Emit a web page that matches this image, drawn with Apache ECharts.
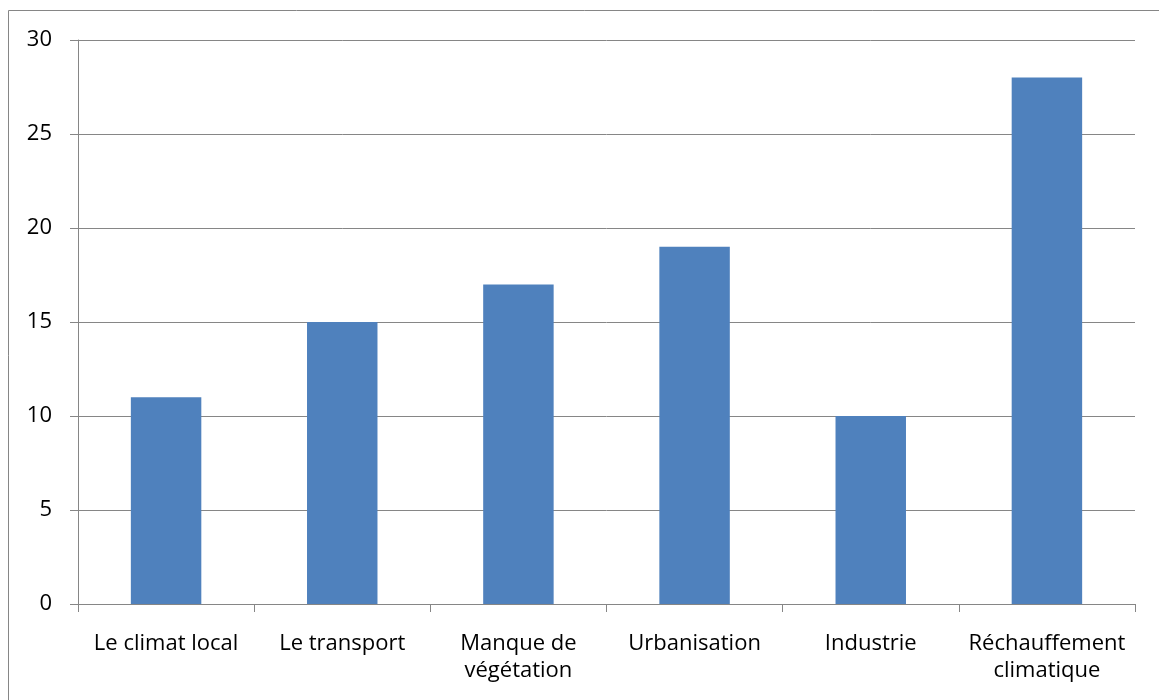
<!DOCTYPE html>
<html>
<head>
<meta charset="utf-8">
<script src="https://cdn.jsdelivr.net/npm/echarts@6/dist/echarts.min.js"></script>
<style>
  html, body { margin: 0; padding: 0; background: #fff; }
  #main { width: 1159px; height: 700px; }
</style>
</head>
<body>
<div id="main"></div>
<script>
// catégories et valeurs
var categories = ['Le climat local', 'Le transport', 'Manque de\nvégétation', 'Urbanisation', 'Industrie', 'Réchauffement\nclimatique'];
var values = [11, 15, 17, 19, 10, 28];
var yTicks = [0, 5, 10, 15, 20, 25, 30];

var chart = echarts.init(document.getElementById('main'));
var grey = '#868686';
var option = {
    animation: false,
    textStyle: { fontFamily: 'Open Sans' },
    // cadre extérieur
    graphic: [{
        type: 'rect',
        shape: { x: 8.5, y: 10.5, width: 1160, height: 700 },
        style: { fill: null, stroke: grey, lineWidth: 1 },
        silent: true
    }],
    grid: { left: 78, right: 24, top: 40, bottom: 96 },
    xAxis: {
        type: 'category',
        data: categories,
        axisLine: { lineStyle: { color: grey, width: 1 } },
        axisTick: { show: true, length: 8, lineStyle: { color: grey } },
        axisLabel: { color: '#000', fontSize: 22, margin: 26, lineHeight: 27, interval: 0 }
    },
    yAxis: {
        type: 'value',
        min: yTicks[0],
        max: yTicks[yTicks.length - 1],
        interval: 5,
        axisLine: { show: true, lineStyle: { color: grey, width: 1 } },
        axisTick: { show: true, length: 8, lineStyle: { color: grey } },
        splitLine: { lineStyle: { color: grey, width: 1 } },
        axisLabel: { color: '#000', fontSize: 22, margin: 26 }
    },
    series: [{
        type: 'bar',
        data: values,
        barCategoryGap: '60%',
        itemStyle: { color: '#4F81BD' }
    }]
};
chart.setOption(option);
</script>
</body>
</html>
